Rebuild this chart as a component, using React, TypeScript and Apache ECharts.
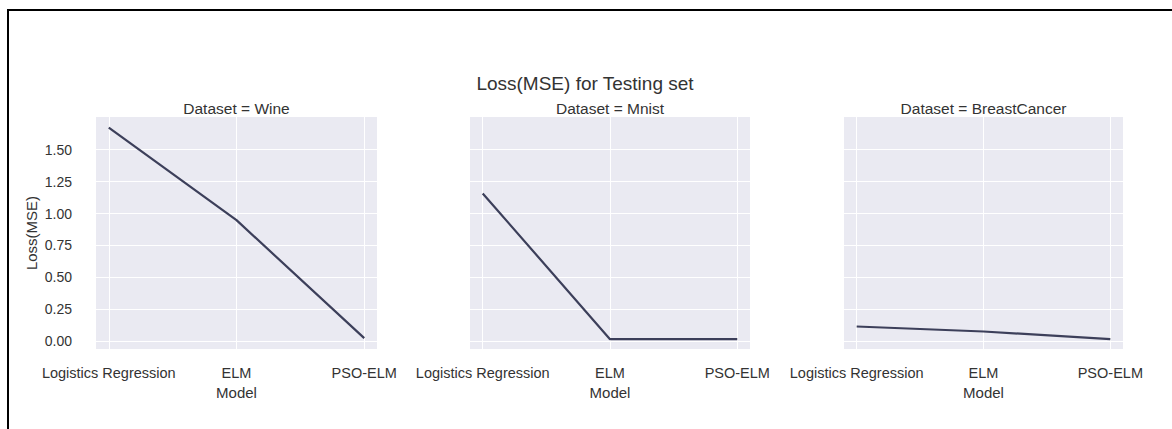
import React, { useEffect, useRef } from "react";
import * as echarts from "echarts";

const models = ["Logistics Regression", "ELM", "PSO-ELM"];
const datasets = ["Wine", "Mnist", "BreastCancer"];
const wineLoss = [1.672, 0.948, 0.025];
const mnistLoss = [1.157, 0.017, 0.017];
const breastCancerLoss = [0.116, 0.077, 0.017];
const yTicks = [0, 0.25, 0.5, 0.75, 1.0, 1.25, 1.5];
const yMin = -0.06;
const yMax = 1.755;
const xPositions = [0, 1, 2];

const seriesValues = [wineLoss, mnistLoss, breastCancerLoss];

const FONT = "'Liberation Sans', Arial, sans-serif";
const TEXT = "#333333";
const LINE = "#3c3f5a";
const BG = "#EAEAF2";

const gridLefts = [96, 470, 844];
const gridWidths = [281, 280, 279];

export default function App() {
  const ref = useRef<HTMLDivElement>(null);

  useEffect(() => {
    if (!ref.current) return;
    const chart = echarts.init(ref.current, undefined, { renderer: "svg" });

    const grids = gridLefts.map((left, i) => ({
      left,
      top: 117,
      width: gridWidths[i],
      height: 232,
      show: true,
      backgroundColor: BG,
      borderWidth: 0,
    }));

    const xAxes = datasets.map((_, i) => ({
      type: "value",
      gridIndex: i,
      min: -0.1,
      max: 2.1,
      name: "Model",
      nameLocation: "middle",
      nameGap: 36,
      nameTextStyle: { fontFamily: FONT, fontSize: 15, color: TEXT },
      axisLine: { show: false },
      axisTick: { show: false, customValues: xPositions },
      axisLabel: {
        customValues: xPositions,
        formatter: (v: number) => models[Math.round(v)] ?? "",
        fontFamily: FONT,
        fontSize: 14.5,
        color: TEXT,
        margin: 16,
      },
      splitLine: { show: true, lineStyle: { color: "#ffffff", width: 1 } },
    }));

    const yAxes = datasets.map((_, i) => ({
      type: "value",
      gridIndex: i,
      min: yMin,
      max: yMax,
      name: i === 0 ? "Loss(MSE)" : "",
      nameLocation: "middle",
      nameGap: 57,
      nameTextStyle: { fontFamily: FONT, fontSize: 15, color: TEXT },
      axisLine: { show: false },
      axisTick: { show: false, customValues: yTicks },
      axisLabel: {
        show: i === 0,
        customValues: yTicks,
        formatter: (v: number) => v.toFixed(2),
        fontFamily: FONT,
        fontSize: 14,
        color: TEXT,
        margin: 24,
      },
      splitLine: { show: true, lineStyle: { color: "#ffffff", width: 1 } },
    }));

    const series = datasets.map((_, i) => ({
      type: "line",
      xAxisIndex: i,
      yAxisIndex: i,
      data: seriesValues[i].map((v, j) => [xPositions[j], v]),
      showSymbol: false,
      symbol: "none",
      lineStyle: { color: LINE, width: 2.2 },
    }));

    const subtitleCenters = gridLefts.map((l, i) => l + gridWidths[i] / 2);

    const graphics: any[] = [
      {
        type: "line",
        shape: { x1: 8, y1: 9, x2: 8, y2: 429 },
        style: { stroke: "#000", lineWidth: 2 },
      },
      {
        type: "line",
        shape: { x1: 7, y1: 10, x2: 1172, y2: 10 },
        style: { stroke: "#000", lineWidth: 2 },
      },
      {
        type: "text",
        x: 585,
        y: 83,
        style: {
          text: "Loss(MSE) for Testing set",
          align: "center",
          verticalAlign: "middle",
          fontFamily: FONT,
          fontSize: 19,
          fill: TEXT,
        },
      },
      ...datasets.map((d, i) => ({
        type: "text",
        x: subtitleCenters[i],
        y: 108,
        style: {
          text: "Dataset = " + d,
          align: "center",
          verticalAlign: "middle",
          fontFamily: FONT,
          fontSize: 15.5,
          fill: TEXT,
        },
      })),
    ];

    chart.setOption({
      animation: false,
      backgroundColor: "#ffffff",
      grid: grids,
      xAxis: xAxes,
      yAxis: yAxes,
      series,
      graphic: graphics,
    });

    return () => chart.dispose();
  }, []);

  return (
    <div
      ref={ref}
      style={{ position: "fixed", left: 0, top: 0, width: 1172, height: 429 }}
    />
  );
}
